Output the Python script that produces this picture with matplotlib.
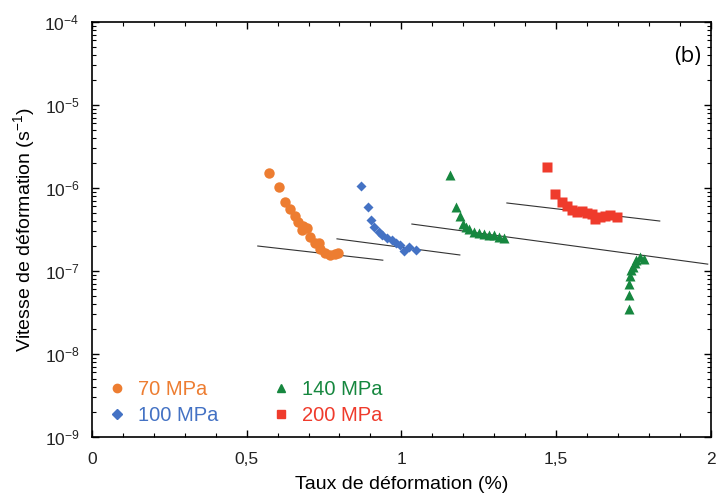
import matplotlib.pyplot as plt
import numpy as np
from matplotlib.ticker import FixedLocator, LogLocator, NullFormatter, FuncFormatter

plt.rcParams['font.family'] = ['Liberation Sans', 'DejaVu Sans']
plt.rcParams['mathtext.default'] = 'regular'

# 70 MPa
x70 = [0.572, 0.604, 0.624, 0.640, 0.656, 0.666, 0.682, 0.695, 0.678, 0.704,
       0.720, 0.733, 0.736, 0.752, 0.768, 0.785, 0.794]
y70 = [1.52e-6, 1.03e-6, 6.8e-7, 5.6e-7, 4.6e-7, 3.9e-7, 3.5e-7, 3.3e-7, 3.1e-7, 2.6e-7,
       2.2e-7, 2.2e-7, 1.85e-7, 1.65e-7, 1.55e-7, 1.6e-7, 1.65e-7]
# 100 MPa
x100 = [0.871, 0.891, 0.903, 0.913, 0.929, 0.939, 0.955, 0.971, 0.984, 0.994,
        1.010, 1.026, 1.048]
y100 = [1.06e-6, 5.9e-7, 4.1e-7, 3.4e-7, 2.95e-7, 2.7e-7, 2.5e-7, 2.35e-7, 2.2e-7, 2.05e-7,
        1.75e-7, 1.95e-7, 1.8e-7]
# 140 MPa
x140 = [1.158, 1.177, 1.190, 1.199, 1.209, 1.219, 1.235, 1.251, 1.267, 1.283,
        1.299, 1.315, 1.331,
        1.772, 1.785, 1.759, 1.755, 1.749, 1.743, 1.739, 1.736, 1.736, 1.736]
y140 = [1.43e-6, 5.9e-7, 4.6e-7, 3.7e-7, 3.4e-7, 3.2e-7, 2.95e-7, 2.9e-7, 2.8e-7, 2.7e-7,
        2.7e-7, 2.6e-7, 2.5e-7,
        1.48e-7, 1.39e-7, 1.35e-7, 1.25e-7, 1.12e-7, 1.03e-7, 8.7e-8, 7.0e-8, 5.1e-8, 3.5e-8]
# 200 MPa
x200 = [1.470, 1.496, 1.518, 1.535, 1.551, 1.567, 1.583, 1.599, 1.615, 1.625,
        1.641, 1.658, 1.674, 1.696]
y200 = [1.79e-6, 8.5e-7, 6.8e-7, 6.1e-7, 5.4e-7, 5.1e-7, 5.3e-7, 5.0e-7, 4.9e-7, 4.2e-7,
        4.5e-7, 4.6e-7, 4.7e-7, 4.5e-7]

# trend lines (start, end)
fit_x = [(0.536, 0.940), (0.792, 1.189), (1.034, 1.990), (1.341, 1.835)]
fit_y = [(2.0e-7, 1.35e-7), (2.44e-7, 1.56e-7), (3.68e-7, 1.21e-7), (6.6e-7, 4.0e-7)]

c70, c100, c140, c200 = '#ED7D31', '#4472C4', '#16873F', '#EF3B2C'

fig = plt.figure(figsize=(7.18, 5), dpi=100)
ax = fig.add_axes([0.128, 0.126, 0.862, 0.830])

for fx, fy in zip(fit_x, fit_y):
    ax.plot(fx, fy, color='#333333', lw=0.8, zorder=1)

ax.plot(x70, y70, 'o', color=c70, ms=7.5, mec='none', ls='none', zorder=3)
ax.plot(x100, y100, 'D', color=c100, ms=5.5, mec='none', ls='none', zorder=3)
ax.plot(x140, y140, '^', color=c140, ms=6.5, mec='none', ls='none', zorder=3)
ax.plot(x200, y200, 's', color=c200, ms=7.5, mec='none', ls='none', zorder=3)

# legend handles (smaller markers than the data)
h70 = ax.plot([], [], 'o', color=c70, ms=6, ls='none')[0]
h100 = ax.plot([], [], 'D', color=c100, ms=5, ls='none')[0]
h140 = ax.plot([], [], '^', color=c140, ms=6, ls='none')[0]
h200 = ax.plot([], [], 's', color=c200, ms=6, ls='none')[0]
leg = ax.legend([h70, h100, h140, h200], ['70 MPa', '100 MPa', '140 MPa', '200 MPa'],
                ncol=2, loc='lower left', bbox_to_anchor=(-0.005, -0.015), frameon=False,
                fontsize=14.5, handletextpad=0.55, columnspacing=2.6, labelspacing=0.35,
                handlelength=1.0)
for t, c in zip(leg.get_texts(), [c70, c100, c140, c200]):
    t.set_color(c)

ax.set_yscale('log')
ax.set_xlim(0, 2)
ax.set_ylim(1e-9, 1e-4)
ax.xaxis.set_major_locator(FixedLocator([0, 0.5, 1, 1.5, 2]))
ax.xaxis.set_minor_locator(FixedLocator(np.arange(0, 2.01, 0.1)))
ax.xaxis.set_major_formatter(FuncFormatter(lambda v, p: ('%g' % v).replace('.', ',')))
ax.yaxis.set_major_locator(LogLocator(base=10, numticks=10))
ax.yaxis.set_minor_locator(LogLocator(base=10, subs=np.arange(2, 10), numticks=20))
ax.yaxis.set_minor_formatter(NullFormatter())
ax.tick_params(which='both', direction='in', top=True, right=True, labelsize=12.5,
               labelcolor='#222222')
ax.tick_params(which='major', length=5, width=1)
ax.tick_params(which='minor', length=3, width=0.8)
ax.tick_params(axis='x', pad=11)
ax.tick_params(axis='y', pad=9)
for s in ax.spines.values():
    s.set_linewidth(1.2)

ax.set_xlabel('Taux de déformation (%)', fontsize=14, labelpad=6)
ax.set_ylabel('Vitesse de déformation (s$^{-1}$)', fontsize=14, labelpad=5)
ax.text(0.963, 0.917, '(b)', transform=ax.transAxes, fontsize=16, ha='center', va='center',
        family=['Open Sans', 'DejaVu Sans'])

plt.savefig('out.png', dpi=100)
